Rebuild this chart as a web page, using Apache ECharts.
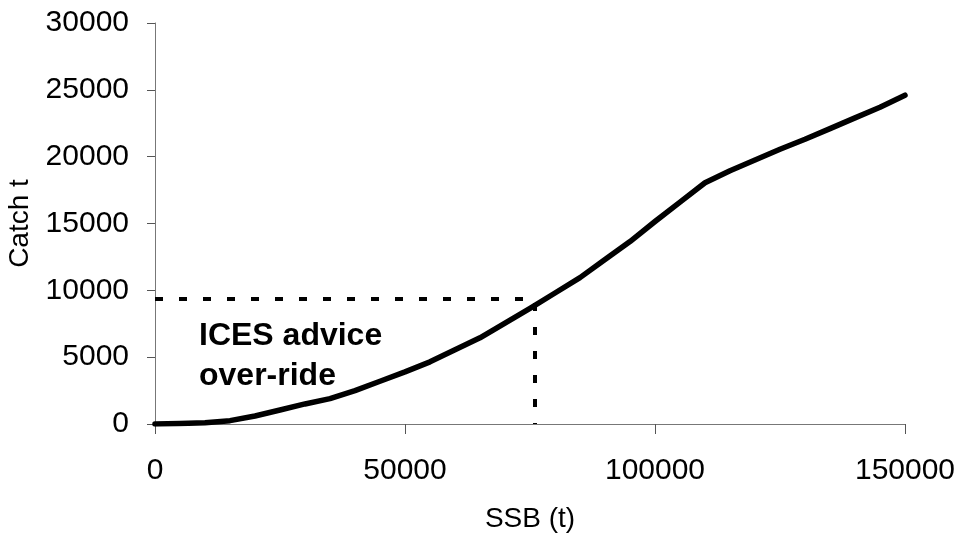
<!DOCTYPE html>
<html>
<head>
<meta charset="utf-8">
<script src="https://cdn.jsdelivr.net/npm/echarts@6/dist/echarts.min.js"></script>
<style>
  html, body { margin: 0; padding: 0; background: #fff; }
  #chart { width: 959px; height: 541px; }
</style>
</head>
<body>
<div id="chart"></div>
<script>
// SSB (t) vs catch (t)
const ssb = [0, 5000, 10000, 15000, 20000, 25000, 30000, 35000, 40000, 45000, 50000,
  55000, 60000, 65000, 70000, 75000, 80000, 85000, 90000, 95000, 100000,
  105000, 110000, 115000, 120000, 125000, 130000, 135000, 140000, 145000, 150000];
const catchT = [0, 30, 100, 250, 600, 1050, 1500, 1900, 2500, 3200, 3900,
  4650, 5550, 6450, 7550, 8650, 9800, 10950, 12300, 13650, 15150,
  16600, 18050, 18950, 19750, 20550, 21300, 22100, 22900, 23700, 24600];

// ICES advice over-ride guide
const guideX = [0, 76000, 76000];
const guideY = [9350, 9350, 0];

const font = '"Liberation Sans", Arial, sans-serif';
const plain = (v) => String(v);

const chart = echarts.init(document.getElementById('chart'));
chart.setOption({
  animation: false,
  grid: { left: 155, right: 54, top: 23, bottom: 117, outerBoundsMode: 'none' },
  xAxis: {
    type: 'value',
    min: 0,
    max: 150000,
    interval: 50000,
    name: 'SSB (t)',
    nameLocation: 'middle',
    nameGap: 81,
    nameTextStyle: { color: '#000', fontSize: 28, fontFamily: font },
    axisLine: { show: true, lineStyle: { color: '#777', width: 1 } },
    axisTick: { show: true, length: 10, lineStyle: { color: '#555' } },
    axisLabel: { color: '#000', fontSize: 30, fontFamily: font, margin: 32, formatter: plain },
    splitLine: { show: false },
  },
  yAxis: {
    type: 'value',
    min: 0,
    max: 30000,
    interval: 5000,
    name: 'Catch t',
    nameLocation: 'middle',
    nameGap: 106,
    nameTextStyle: { color: '#000', fontSize: 28, fontFamily: font },
    axisLine: { show: true, lineStyle: { color: '#777', width: 1 } },
    axisTick: { show: true, length: 8, lineStyle: { color: '#555' } },
    axisLabel: { color: '#000', fontSize: 30, fontFamily: font, margin: 26, formatter: plain },
    splitLine: { show: false },
  },
  graphic: [
    {
      type: 'text',
      left: 199,
      top: 316,
      style: {
        text: 'ICES advice\nover-ride',
        fill: '#000',
        font: 'bold 32px ' + font,
        lineHeight: 40,
      },
    },
  ],
  series: [
    {
      type: 'line',
      data: guideX.map((x, i) => [x, guideY[i]]),
      symbol: 'none',
      lineStyle: { color: '#000', width: 4, type: [8, 16] },
      z: 2,
    },
    {
      type: 'line',
      data: ssb.map((x, i) => [x, catchT[i]]),
      symbol: 'none',
      smooth: false,
      lineStyle: { color: '#000', width: 5.5, join: 'round', cap: 'round' },
      z: 3,
    },
  ],
});
</script>
</body>
</html>
